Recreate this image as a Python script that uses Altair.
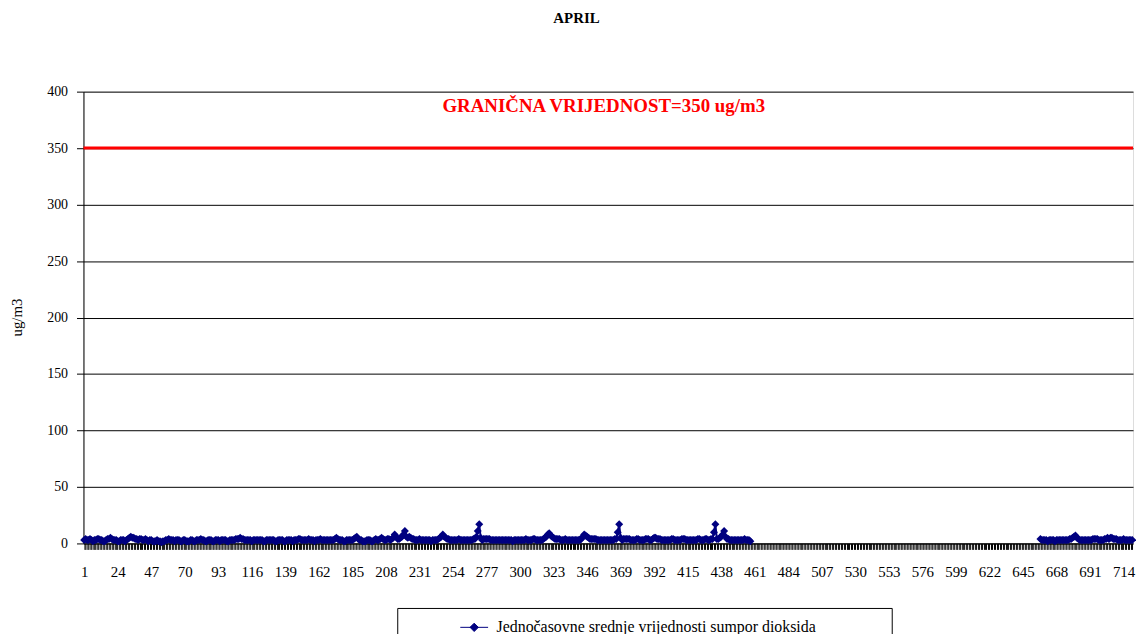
import altair as alt
import pandas as pd

# Hourly SO2 values (ug/m3) for April, 30 days x 24 hours; None = no measurement
day_values = [
    [3, 4, 3, 3, 4, 3, 2, 3, 3, 4, 4, 3, 3, 2, 2, 3, 4, 4, 5, 4, 3, 3, 3, 2],
    [2, 3, 3, 3, 2, 3, 4, 5, 6, 5, 5, 4, 4, 3, 4, 4, 3, 3, 4, 3, 2, 3, 3, 2],
    [2, 2, 3, 2, 2, 1, 2, 2, 3, 3, 4, 3, 3, 3, 2, 3, 3, 3, 2, 2, 3, 3, 2, 2],
    [2, 3, 3, 2, 2, 3, 3, 3, 4, 3, 3, 2, 2, 3, 3, 3, 2, 2, 3, 3, 3, 2, 3, 3],
    [3, 3, 2, 2, 3, 3, 3, 3, 4, 4, 4, 5, 4, 4, 3, 3, 3, 3, 3, 2, 3, 3, 3, 3],
    [3, 3, 3, 2, 2, 3, 3, 3, 3, 3, 3, 2, 2, 3, 3, 3, 3, 2, 2, 3, 3, 3, 3, 2],
    [3, 3, 3, 4, 4, 3, 3, 3, 3, 3, 4, 3, 3, 3, 2, 3, 3, 3, 4, 3, 3, 3, 3, 3],
    [3, 3, 3, 3, 4, 5, 4, 3, 3, 3, 2, 2, 3, 3, 3, 3, 3, 4, 5, 6, 4, 3, 3, 2],
    [2, 2, 3, 3, 3, 2, 2, 3, 4, 3, 3, 4, 5, 4, 3, 3, 4, 4, 3, 4, 5, 8, 6, 4],
    [4, 5, 6, 8, 11, 6, 5, 6, 5, 4, 4, 3, 3, 3, 4, 3, 3, 3, 3, 3, 3, 3, 2, 3],
    [3, 3, 3, 4, 5, 6, 8, 6, 5, 4, 4, 3, 3, 3, 3, 3, 3, 4, 3, 3, 3, 3, 3, 3],
    [3, 3, 3, 4, 4, 6, 11, 17, 5, 3, 4, 4, 4, 4, 4, 3, 3, 3, 3, 3, 3, 3, 3, 3],
    [3, 3, 3, 3, 3, 3, 2, 3, 3, 3, 3, 3, 3, 3, 3, 4, 3, 3, 3, 3, 4, 4, 3, 3],
    [3, 3, 3, 4, 5, 6, 8, 9, 7, 6, 5, 4, 4, 4, 4, 3, 3, 3, 4, 3, 3, 3, 3, 3],
    [3, 3, 3, 3, 3, 4, 6, 8, 7, 6, 5, 4, 4, 4, 4, 4, 3, 3, 3, 3, 3, 3, 3, 3],
    [3, 3, 3, 3, 4, 4, 10, 17, 5, 3, 4, 4, 4, 4, 4, 3, 3, 3, 3, 4, 4, 3, 3, 3],
    [3, 4, 4, 4, 3, 3, 4, 5, 5, 4, 4, 4, 3, 3, 3, 3, 3, 3, 3, 4, 4, 3, 3, 3],
    [3, 3, 4, 4, 4, 3, 3, 3, 3, 3, 3, 3, 3, 4, 4, 3, 3, 3, 4, 4, 3, 3, 4, 4],
    [10, 17, 4, 4, 5, 6, 8, 11, 6, 4, 4, 3, 3, 3, 3, 3, 3, 3, 3, 3, 3, 4, 3, 3],
    [3, 2] + [None] * 22,
    [None] * 24,
    [None] * 24,
    [None] * 24,
    [None] * 24,
    [None] * 24,
    [None] * 24,
    [None] * 24,
    [None] * 8 + [4, 3, 3, 3, 3, 2, 3, 3, 3, 3, 2, 3, 3, 3, 3, 3],
    [3, 3, 3, 3, 4, 4, 5, 6, 7, 5, 4, 3, 3, 3, 3, 3, 3, 3, 3, 3, 4, 4, 4, 4],
    [3, 3, 3, 3, 4, 4, 5, 4, 5, 5, 4, 4, 4, 3, 3, 3, 3, 4, 3, 3, 3, 3, 3, 3],
]

series_name = "Jednočasovne srednje vrijednosti sumpor dioksida"
limit_value = [350]
limit_label = ["GRANIČNA VRIJEDNOST=350 ug/m3"]
y_ticks = [0, 50, 100, 150, 200, 250, 300, 350, 400]

values = [v for day in day_values for v in day]
hours = list(range(1, len(values) + 1))
labelled_hours = hours[::23]

df = pd.DataFrame({"sat": hours, "vrijednost": values, "serija": series_name})

FONT = "Liberation Serif"
NAVY = "#000080"

x_scale = alt.Scale(domain=[0.5, 720.5], nice=False, zero=False)

# axis with a tick for every hour (no labels)
x_ticks_axis = alt.Axis(
    orient="bottom",
    values=hours,
    tickCount=800,
    labels=False,
    tickSize=6,
    tickColor="black",
    domainColor="black",
    grid=False,
    title=None,
)
# axis with labels every 23 hours (no ticks, no domain)
x_label_axis = alt.Axis(
    orient="bottom",
    values=labelled_hours,
    tickCount=800,
    format="d",
    labelOverlap=False,
    labelFlush=False,
    labelFont=FONT,
    labelFontSize=15,
    labelColor="black",
    labelPadding=21,
    ticks=False,
    domain=False,
    grid=False,
    title=None,
)

y_enc = alt.Y(
    "vrijednost:Q",
    scale=alt.Scale(domain=[0, 400], nice=False),
    axis=alt.Axis(
        values=y_ticks,
        labelFont=FONT,
        labelFontSize=14,
        labelColor="black",
        labelPadding=9,
        tickSize=7,
        tickColor="black",
        domainColor="black",
        grid=True,
        gridColor="black",
        gridWidth=1,
        title="ug/m3",
        titleFont=FONT,
        titleFontSize=15,
        titleFontWeight="normal",
        titleColor="black",
        titleX=-59,
        titleY=227,
    ),
)
color_enc = alt.Color(
    "serija:N",
    scale=alt.Scale(range=[NAVY]),
    legend=alt.Legend(
        orient="none",
        legendX=316,
        legendY=520,
        title=".",
        titleColor="white",
        titleFontSize=8,
        titleOrient="right",
        titlePadding=68,
        strokeColor="black",
        fillColor="white",
        padding=5,
        symbolOffset=58,
        labelOffset=8,
        symbolType="M-1,0H1M0,-0.3L0.3,0L0,0.3L-0.3,0Z",
        symbolSize=784,
        symbolStrokeWidth=1,
        symbolFillColor=NAVY,
        symbolStrokeColor=NAVY,
        labelFont=FONT,
        labelFontSize=16,
        labelColor="black",
        labelLimit=700,
    ),
)

base = alt.Chart(df)
line = base.mark_line(strokeWidth=2).encode(
    x=alt.X("sat:Q", scale=x_scale, axis=x_ticks_axis), y=y_enc, color=color_enc
)
points = base.mark_point(shape="diamond", filled=True, size=65, opacity=1).encode(
    x=alt.X("sat:Q", axis=x_label_axis), y="vrijednost:Q", color="serija:N"
)

limit = alt.Chart(pd.DataFrame({"granica": limit_value})).mark_rule(
    color="#ff0000", strokeWidth=3
).encode(y="granica:Q")

label = alt.Chart(pd.DataFrame({"tekst": limit_label})).mark_text(
    font=FONT, fontSize=19, fontWeight="bold", color="#ff0000",
    align="center", baseline="middle"
).encode(x=alt.value(524), y=alt.value(15), text="tekst:N")

chart = (
    alt.layer(limit, line, points, label)
    .resolve_axis(x="independent")
    .properties(
        width=1057,
        height=455,
        title=alt.TitleParams(
            "APRIL", font=FONT, fontSize=15, fontWeight="bold", color="black",
            anchor="middle", offset=59, dx=-32,
        ),
        autosize=alt.AutoSizeParams(type="none"),
        padding={"left": 76, "top": 82, "right": 3, "bottom": 90},
    )
    .configure_view(stroke="#808080", strokeWidth=1)
    .configure(background="white")
)

chart.save("out.html", embed_options={"renderer": "svg", "actions": False})
